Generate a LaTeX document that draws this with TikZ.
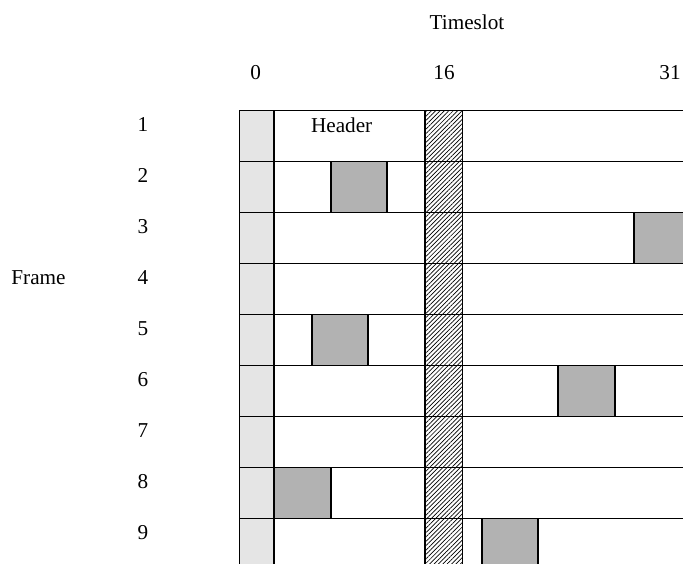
\documentclass[tikz,border=0pt]{standalone}
\usepackage{fontspec}
\setmainfont{Liberation Serif}
\usetikzlibrary{patterns.meta}
\begin{document}
\begin{tikzpicture}[x=1pt,y=-1pt,
  rule/.style={draw=black, line width=1.7pt, line cap=rect},
  lbl/.style={font=\fontsize{21.2}{25}\selectfont, anchor=base, inner sep=0pt},
  slotcol/.style={fill=gray!20},
  guardcol/.style={fill=white, postaction={pattern={Lines[angle=45,distance=3.1pt,line width=0.7pt]}}},
  busy/.style={fill=gray!60, rule}]
\useasboundingbox (0,0) rectangle (683,564);
\clip (0,0) rectangle (683,564);

% axis captions
\node[lbl] (timeslot) at (467,30) {Timeslot};
\node[lbl] (t0)  at (255.7,80) {0};
\node[lbl] (t16) at (444,80) {16};
\node[lbl] (t31) at (670,80) {31};
\node[lbl] (frame) at (38.5,284.5) {Frame};

% slot 0 column and the hatched guard column
\fill[slotcol] (239.5,110.5) rectangle (274,570);
\path[guardcol] (425,110.5) rectangle (462.5,570);

% occupied slots
\path[busy] (331,161.5) rectangle (387,212.5);
\path[busy] (634,212.5) rectangle (690,263.5);
\path[busy] (312,314.5) rectangle (368,365.5);
\path[busy] (557.7,365.5) rectangle (615,416.5);
\path[busy] (274,467.5) rectangle (331,518.5);
\path[busy] (481.7,518.5) rectangle (538,570);

% frame rows
\foreach \i in {1,...,9}{
  \pgfmathsetmacro{\top}{110.5+51*(\i-1)}
  \node[lbl] (f\i) at (143,\top+21.3) {\i};
  \draw[rule] (239.5,\top) -- (690,\top);
}
\draw[rule] (239.5,110.5) -- (239.5,570);
\draw[rule] (274,110.5) -- (274,570);
\draw[rule] (425,110.5) -- (425,570);
\draw[rule] (462.5,110.5) -- (462.5,570);

\node[lbl] (header) at (341.7,132.5) {Header};
\end{tikzpicture}
\end{document}
